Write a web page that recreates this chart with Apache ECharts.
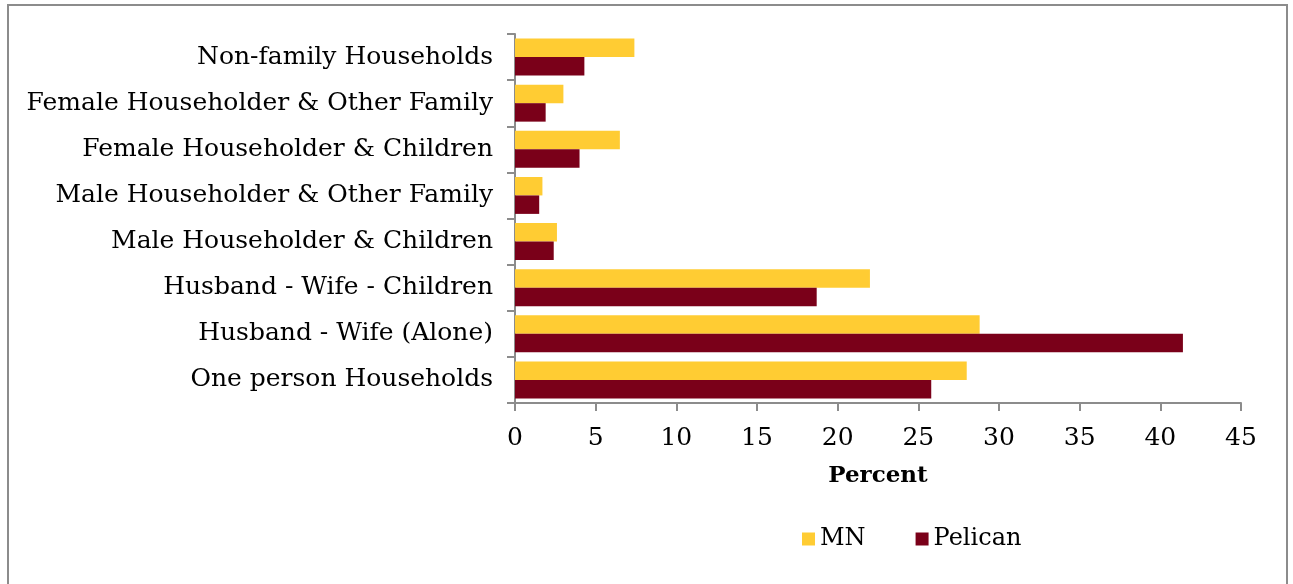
<!DOCTYPE html>
<html>
<head>
<meta charset="utf-8">
<script src="https://cdn.jsdelivr.net/npm/echarts@6/dist/echarts.min.js"></script>
<style>
  html, body { margin: 0; padding: 0; background: #fff; }
  #chart { width: 1293px; height: 584px; }
</style>
</head>
<body>
<div id="chart"></div>
<script>
// Household types, listed from the bottom of the chart to the top
const categories = [
  'One person Households',
  'Husband - Wife (Alone)',
  'Husband - Wife - Children',
  'Male Householder & Children',
  'Male Householder & Other Family',
  'Female Householder & Children',
  'Female Householder & Other Family',
  'Non-family Households'
];

// Share of households (percent)
const mnValues      = [28.0, 28.8, 22.0, 2.6, 1.7, 6.5, 3.0, 7.4];
const pelicanValues = [25.8, 41.4, 18.7, 2.4, 1.5, 4.0, 1.9, 4.3];

const seriesNames = ['MN', 'Pelican'];
const xTicks = { min: 0, max: 45, interval: 5 };

const FONT = '"DejaVu Serif", serif';
const AXIS_GREY = '#8c8c8c';

const chart = echarts.init(document.getElementById('chart'), null, { renderer: 'canvas' });

chart.setOption({
  animation: false,
  backgroundColor: '#ffffff',
  textStyle: { fontFamily: FONT, color: '#000' },
  graphic: [{
    type: 'rect',
    shape: { x: 8, y: 5, width: 1279, height: 600 },
    style: { fill: 'none', stroke: AXIS_GREY, lineWidth: 2 },
    silent: true
  }],
  grid: { left: 515, right: 52, top: 34, bottom: 181, containLabel: false },
  legend: {
    data: seriesNames,
    top: 522,
    left: 797,
    itemWidth: 13,
    itemHeight: 13,
    itemGap: 50,
    icon: 'rect',
    textStyle: { fontFamily: FONT, fontSize: 24, color: '#000' }
  },
  xAxis: {
    type: 'value',
    min: xTicks.min,
    max: xTicks.max,
    interval: xTicks.interval,
    name: 'Percent',
    nameLocation: 'middle',
    nameGap: 62,
    nameTextStyle: { fontFamily: FONT, fontSize: 23, fontWeight: 'bold', color: '#000' },
    axisLine: { show: true, lineStyle: { color: AXIS_GREY, width: 2 } },
    axisTick: { show: true, inside: false, length: 8, lineStyle: { color: AXIS_GREY, width: 2 } },
    axisLabel: { fontFamily: FONT, fontSize: 25, color: '#000', margin: 23 },
    splitLine: { show: false }
  },
  yAxis: {
    type: 'category',
    data: categories,
    axisLine: { show: true, lineStyle: { color: AXIS_GREY, width: 2 } },
    axisTick: { show: true, inside: false, length: 8, alignWithLabel: false, lineStyle: { color: AXIS_GREY, width: 2 } },
    axisLabel: { fontFamily: FONT, fontSize: 25, color: '#000', margin: 22 },
    splitLine: { show: false }
  },
  series: [
    {
      name: 'MN',
      type: 'bar',
      data: mnValues,
      barGap: '0%',
      barCategoryGap: '20%',
      itemStyle: { color: '#ffcc33' }
    },
    {
      name: 'Pelican',
      type: 'bar',
      data: pelicanValues,
      barGap: '0%',
      barCategoryGap: '20%',
      itemStyle: { color: '#7a0019' }
    }
  ]
});
</script>
</body>
</html>
